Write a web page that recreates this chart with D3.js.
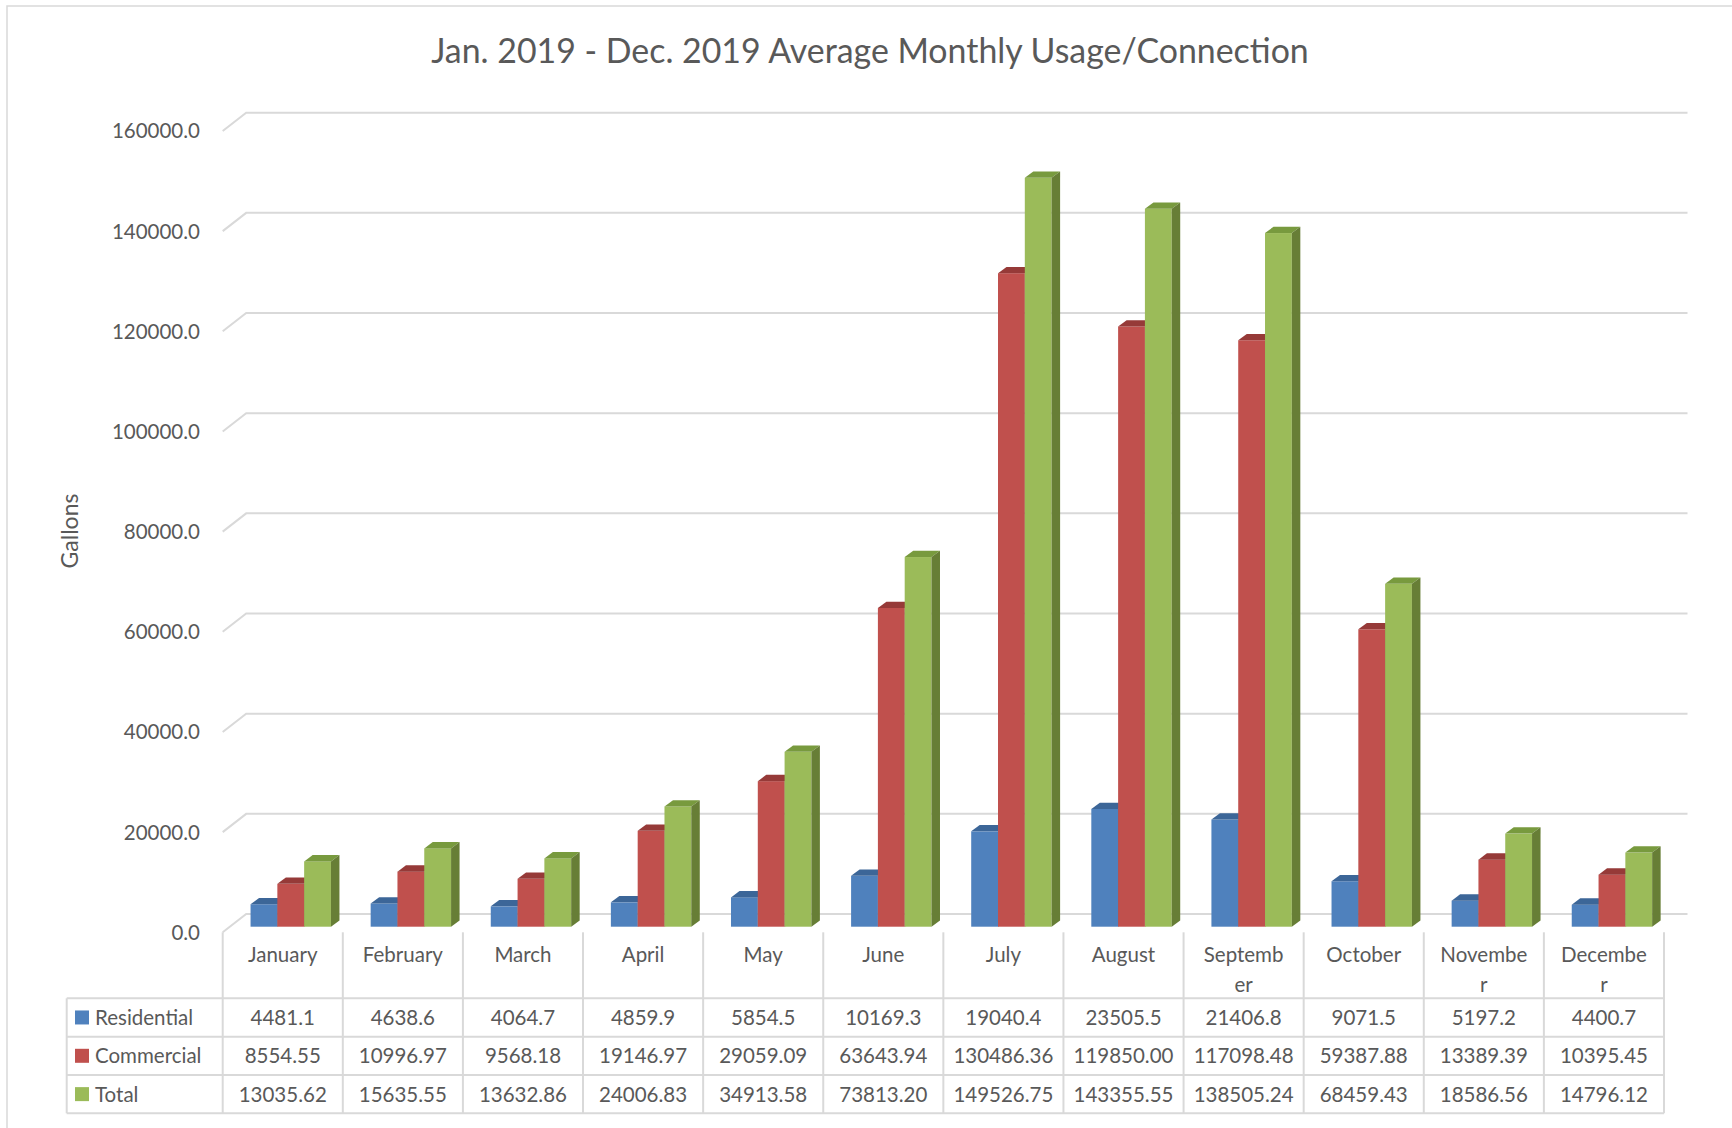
<!DOCTYPE html>
<html>
<head>
<meta charset="utf-8">
<script src="https://cdn.jsdelivr.net/npm/d3@7"></script>
<style>
  body { margin: 0; background: #fff; }
  text { font-family: Lato, "Open Sans", sans-serif; fill: #595959; }
</style>
</head>
<body>
<div id="chart"></div>
<script>
var months = ["January", "February", "March", "April", "May", "June", "July",
  "August", "September", "October", "November", "December"];
// the category labels wrap inside their cells in the original
var monthLabels = [["January"], ["February"], ["March"], ["April"], ["May"], ["June"],
  ["July"], ["August"], ["Septemb", "er"], ["October"], ["Novembe", "r"], ["Decembe", "r"]];
var seriesNames = ["Residential", "Commercial", "Total"];
var residential = [4481.1, 4638.6, 4064.7, 4859.9, 5854.5, 10169.3, 19040.4, 23505.5, 21406.8, 9071.5, 5197.2, 4400.7];
var commercial = [8554.55, 10996.97, 9568.18, 19146.97, 29059.09, 63643.94, 130486.36, 119850.00, 117098.48, 59387.88, 13389.39, 10395.45];
var total = [13035.62, 15635.55, 13632.86, 24006.83, 34913.58, 73813.20, 149526.75, 143355.55, 138505.24, 68459.43, 18586.56, 14796.12];
var yTicks = [0, 20000, 40000, 60000, 80000, 100000, 120000, 140000, 160000];

var series = [
  {name: "Residential", values: residential, fmt: d3.format(".1f"), front: "#4f81bd", top: "#3c6698", side: "#385d8a"},
  {name: "Commercial", values: commercial, fmt: d3.format(".2f"), front: "#c0504d", top: "#963a38", side: "#8c3836"},
  {name: "Total", values: total, fmt: d3.format(".2f"), front: "#9bbb59", top: "#789a3e", side: "#677e36"}
];

var width = 1732, height = 1128;

var svg = d3.select("#chart")
  .append("svg")
    .attr("width", width)
    .attr("height", height);

// chart border
svg.append("rect")
  .attr("x", 7).attr("y", 6)
  .attr("width", 1800).attr("height", 1200)
  .attr("fill", "none")
  .attr("stroke", "#d9d9d9")
  .attr("stroke-width", 1.5);

// 3d offsets: floor front edge vs back wall
var depthX = 23.5, depthY = 18.3;
var left = 222.7, right = 1664;

var x = d3.scaleBand()
  .domain(months)
  .range([left, right]);

// y on the back wall
var y = d3.scaleLinear()
  .domain([0, 160000])
  .range([914, 112.7]);

// gridlines + y labels
var grid = svg.append("g");
yTicks.forEach(function(t) {
  var yy = y(t);
  grid.append("path")
    .attr("d", "M" + left + "," + (yy + depthY) + "L" + (left + depthX) + "," + yy + "H" + (right + depthX))
    .attr("fill", "none")
    .attr("stroke", "#d9d9d9")
    .attr("stroke-width", 2);
  grid.append("text")
    .attr("x", 200)
    .attr("y", yy + depthY)
    .attr("dy", "0.36em")
    .attr("text-anchor", "end")
    .style("font-size", "20.5px")
    .text(d3.format(".1f")(t));
});

// bars
var barW = 26.8;
var x1 = d3.scaleBand()
  .domain(seriesNames)
  .range([0, barW * 3]);
var barShiftX = 8, barShiftY = 12.7;   // bar plane relative to back wall
var bdx = 8.5, bdy = 6.3;              // bar depth

var bars = svg.append("g");
months.forEach(function(m, i) {
  series.forEach(function(s) {
    var x0 = x(m) + (x.bandwidth() - barW * 3) / 2 + barShiftX + x1(s.name);
    var base = y(0) + barShiftY;
    var top = y(s.values[i]) + barShiftY;
    var w = x1.bandwidth();
    bars.append("rect")
      .attr("x", x0).attr("y", top)
      .attr("width", w).attr("height", base - top)
      .attr("fill", s.front);
    bars.append("path")
      .attr("d", "M" + x0 + "," + top + "L" + (x0 + bdx) + "," + (top - bdy) +
        "L" + (x0 + w + bdx) + "," + (top - bdy) + "L" + (x0 + w) + "," + top + "Z")
      .attr("fill", s.top);
    bars.append("path")
      .attr("d", "M" + (x0 + w) + "," + top + "L" + (x0 + w + bdx) + "," + (top - bdy) +
        "L" + (x0 + w + bdx) + "," + (base - bdy) + "L" + (x0 + w) + "," + base + "Z")
      .attr("fill", s.side);
  });
});

// data table
var tableTop = y(0) + depthY;      // 932
var headBottom = 998.3;
var rowH = 38.33;
var legendLeft = 66.7;
var tbl = svg.append("g");
var lineCol = "#d9d9d9";

months.forEach(function(m, i) {
  var cx = x(m) + x.bandwidth() / 2;
  var t = tbl.append("text")
    .attr("x", cx)
    .attr("y", 962)
    .attr("text-anchor", "middle")
    .style("font-size", "20.5px");
  monthLabels[i].forEach(function(line, k) {
    t.append("tspan").attr("x", cx).attr("dy", k == 0 ? 0 : 30).text(line);
  });
  series.forEach(function(s, r) {
    tbl.append("text")
      .attr("x", cx)
      .attr("y", headBottom + rowH * r + rowH / 2)
      .attr("dy", "0.36em")
      .attr("text-anchor", "middle")
      .style("font-size", "20.5px")
      .text(s.fmt(s.values[i]));
  });
});

// table lines
x.domain().forEach(function(m) {
  tbl.append("line")
    .attr("x1", x(m)).attr("x2", x(m))
    .attr("y1", tableTop).attr("y2", headBottom + rowH * 3)
    .attr("stroke", lineCol).attr("stroke-width", 2);
});
tbl.append("line")
  .attr("x1", right).attr("x2", right)
  .attr("y1", tableTop).attr("y2", headBottom + rowH * 3)
  .attr("stroke", lineCol).attr("stroke-width", 2);
tbl.append("line")
  .attr("x1", legendLeft).attr("x2", legendLeft)
  .attr("y1", headBottom).attr("y2", headBottom + rowH * 3)
  .attr("stroke", lineCol).attr("stroke-width", 2);
for (var r = 0; r <= 3; r++) {
  tbl.append("line")
    .attr("x1", legendLeft).attr("x2", right)
    .attr("y1", headBottom + rowH * r).attr("y2", headBottom + rowH * r)
    .attr("stroke", lineCol).attr("stroke-width", 2);
}

// legend keys inside the table
series.forEach(function(s, r) {
  var cy = headBottom + rowH * r + rowH / 2;
  tbl.append("rect")
    .attr("x", 75).attr("y", cy - 7)
    .attr("width", 14).attr("height", 14)
    .attr("fill", s.front);
  tbl.append("text")
    .attr("x", 95)
    .attr("y", cy)
    .attr("dy", "0.36em")
    .style("font-size", "20.5px")
    .text(s.name);
});

// axis title
svg.append("text")
  .attr("transform", "translate(78,531)rotate(-90)")
  .attr("text-anchor", "middle")
  .style("font-size", "23px")
  .text("Gallons");

// chart title, sized to span the same width as the original
var title = svg.append("text")
  .attr("x", 870)
  .attr("y", 63)
  .attr("text-anchor", "middle")
  .style("font-size", "34px")
  .text("Jan. 2019 - Dec. 2019 Average Monthly Usage/Connection");
var tw = title.node().getComputedTextLength();
title.style("font-size", (34 * 878 / tw) + "px");
</script>
</body>
</html>
